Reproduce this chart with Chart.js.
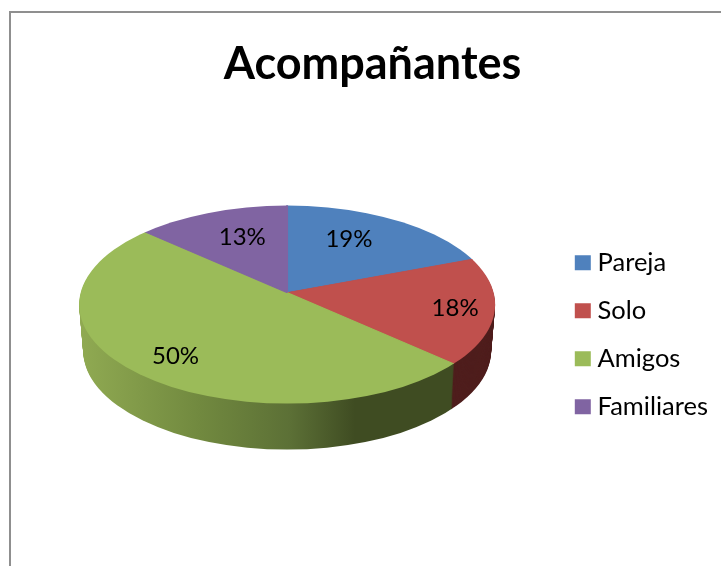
<!DOCTYPE html>
<html><head><meta charset="utf-8">
<style>
html,body{margin:0;padding:0;background:#fff;overflow:hidden}
#frame{position:absolute;left:9px;top:11px;width:712px;height:555px;border-left:2px solid #8f8f8f;border-top:2px solid #8f8f8f;box-sizing:border-box}
canvas{position:absolute;left:0;top:0}
</style>
<script src="https://cdn.jsdelivr.net/npm/chart.js@4/dist/chart.umd.min.js"></script>
</head><body>
<div id="frame"></div>
<div style="position:absolute;left:0;top:0;width:721px;height:566px"><canvas id="c" width="721" height="566"></canvas></div>
<script>
const titleText = 'Acompañantes';
const categories = ['Pareja', 'Solo', 'Amigos', 'Familiares'];
const shares = [19, 18, 50, 13];
const topColors = ['#4F81BD', '#C0504D', '#9BBB59', '#8064A2'];

// 3D look (style only)
const FACE = {rx: 208, ry: 99, drop: 12, squash: 0.455, reach: 270, nudgeX: -5.5};
const WALL = {depth: 46, shrink: 4};
const labelRadial = [110, 171, 163, 113];
const labelLift = [-12, 1, 10, -8];
const greenStops = [[80,'#90aa52'],[200,'#71893f'],[290,'#5c7036'],[355,'#3f4c22'],[460,'#3f4c22']];
const wallFlat = ['#2f4d71', '#4f1e1d', null, '#4c3c61'];

function withFace(ctx, arc, off, shrink, fn) {
  const k = FACE.reach / arc.outerRadius;
  const cx = arc.x + FACE.nudgeX;
  ctx.save();
  ctx.beginPath();
  ctx.ellipse(cx, arc.y + FACE.drop + off, FACE.rx - shrink, FACE.ry, 0, 0, Math.PI * 2);
  ctx.clip();
  ctx.translate(cx, arc.y + off);
  ctx.scale(k, k * FACE.squash);
  ctx.translate(-arc.x, -arc.y);
  fn(k);
  ctx.restore();
}

const pie3d = {
  id: 'pie3d',
  beforeDatasetsDraw(chart) {
    const ctx = chart.ctx;
    const arcs = chart.getDatasetMeta(0).data;
    const a0 = arcs[0];
    const k = FACE.reach / a0.outerRadius;
    const cx = a0.x + FACE.nudgeX;
    const toLocal = x => a0.x + (x - cx) / k;
    const g = ctx.createLinearGradient(toLocal(80), 0, toLocal(460), 0);
    greenStops.forEach(([x, c]) => g.addColorStop((x - 80) / 380, c));

    for (let d = WALL.depth; d >= 1; d--) {
      const t = d / WALL.depth;
      withFace(ctx, a0, d, WALL.shrink * t, () => {
        arcs.forEach((arc, i) => {
          const saved = arc.options;
          const fill = wallFlat[i] || g;
          arc.options = Object.assign({}, saved, {backgroundColor: fill, borderColor: fill});
          arc.draw(ctx);
          arc.options = saved;
        });
      });
    }
    withFace(ctx, a0, 0, 0, () => arcs.forEach(arc => arc.draw(ctx)));

    ctx.save();
    ctx.fillStyle = '#000';
    ctx.font = '24px Lato';
    ctx.textAlign = 'center';
    ctx.textBaseline = 'middle';
    arcs.forEach((arc, i) => {
      const mid = (arc.startAngle + arc.endAngle) / 2;
      const x = cx + labelRadial[i] * Math.cos(mid);
      const y = arc.y + labelRadial[i] * FACE.squash * Math.sin(mid) + labelLift[i];
      ctx.fillText(shares[i] + '%', x, y);
    });
    ctx.restore();
    return false;
  }
};

new Chart(document.getElementById('c'), {
  type: 'pie',
  data: {
    labels: categories,
    datasets: [{data: shares, backgroundColor: topColors, borderColor: topColors, borderWidth: 1}]
  },
  plugins: [pie3d],
  options: {
    responsive: false,
    animation: false,
    layout: {padding: {left: 27, right: 3, top: 0, bottom: 124}},
    plugins: {
      tooltip: {enabled: false},
      title: {
        display: true, text: titleText, color: '#000',
        font: {family: 'Lato', size: 45, weight: 'bold'},
        padding: {top: 37.6, bottom: 51.6}
      },
      legend: {
        display: true, position: 'right', align: 'end',
        labels: {
          color: '#000', font: {family: 'Lato', size: 25.5},
          boxWidth: 4, boxHeight: 3, padding: 22.5,
          generateLabels: chart => categories.map((text, i) => ({
            text, index: i, fillStyle: topColors[i], strokeStyle: topColors[i],
            lineWidth: 12, fontColor: '#000', hidden: false
          }))
        }
      }
    }
  }
});
</script>
</body></html>
